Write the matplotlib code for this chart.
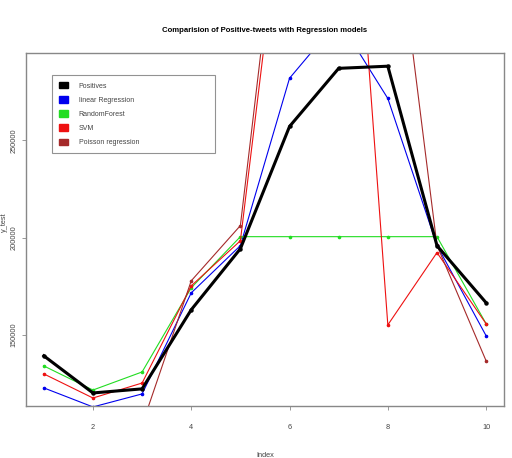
import matplotlib
matplotlib.use("Agg")
import matplotlib.pyplot as plt

# data (index 1..10)
index = [1, 2, 3, 4, 5, 6, 7, 8, 9, 10]
positives = [139200, 120100, 122200, 162900, 194300, 257200, 287100, 288200, 195900, 166500]
linear_reg = [122700, 112900, 119600, 171600, 195900, 282000, 312000, 271600, 196000, 149500]
random_forest = [134000, 121600, 130900, 174200, 200500, 200500, 200500, 200500, 200500, 155700]
svm = [129900, 117500, 125200, 175200, 198400, 406000, 500000, 155100, 192300, 155700]
poisson = [90000, 70000, 103600, 177800, 206200, 420000, 450000, 398000, 196000, 136600]

labels = ["Positives", "linear Regression", "RandomForest", "SVM", "Poisson regression"]
colors = ["black", "#0000ee", "#22dd22", "#ee1111", "#a52a2a"]

plt.rcParams["font.family"] = ["Liberation Sans", "DejaVu Sans"]

fig = plt.figure(figsize=(5.12, 4.58), dpi=100)
ax = fig.add_axes([0.051, 0.1135, 0.933, 0.7705])

series = [positives, linear_reg, random_forest, svm, poisson]
for vals, col, lab in zip(series, colors, labels):
    lw = 2.2 if lab == "Positives" else 0.8
    ax.plot(index, vals, color=col, lw=lw, marker="o", ms=2.2 if lab == "Positives" else 1.6,
            label=lab, zorder=3 if lab == "Positives" else 2)

# R style limits: range of Positives + 4%
lo, hi = min(positives), max(positives)
pad = (hi - lo) * 0.04
ax.set_ylim(lo - pad, hi + pad)
ax.set_xlim(1 - 9 * 0.04, 10 + 9 * 0.04)

ax.set_xticks([2, 4, 6, 8, 10])
ax.set_yticks([150000, 200000, 250000])
ax.tick_params(axis="both", labelsize=5.3, length=3, width=0.6, color="#888888", labelcolor="#444444")
ax.tick_params(axis="x", pad=10)
ax.tick_params(axis="y", pad=3)
for lbl in ax.get_yticklabels():
    lbl.set_rotation(90)
    lbl.set_va("center")
for s in ax.spines.values():
    s.set_color("#888888")
    s.set_linewidth(1.0)

ax.set_xlabel("Index", fontsize=5.3, color="#444444")
ax.xaxis.set_label_coords(0.5, -0.13)
fig.text(4.0 / 512, 0.515, "y_test", fontsize=5.3, color="#444444", rotation=90,
         ha="center", va="center")
ax.set_title("Comparision of Positive-tweets with Regression models", fontsize=5.6,
             fontweight="bold", pad=15)

handles = [plt.Rectangle((0, 0), 1, 1, color=c) for c in colors]
leg = ax.legend(handles, labels, loc="upper left", bbox_to_anchor=(0.046, 0.947, 0.356, 0.0),
                mode="expand", fontsize=5.0, frameon=True, fancybox=False, edgecolor="#777777",
                handlelength=1.3, handleheight=1.0, labelspacing=0.95,
                borderpad=1.0, handletextpad=1.6)
leg.get_frame().set_linewidth(0.8)
for t in leg.get_texts():
    t.set_color("#444444")

fig.savefig("out.png", dpi=100)
